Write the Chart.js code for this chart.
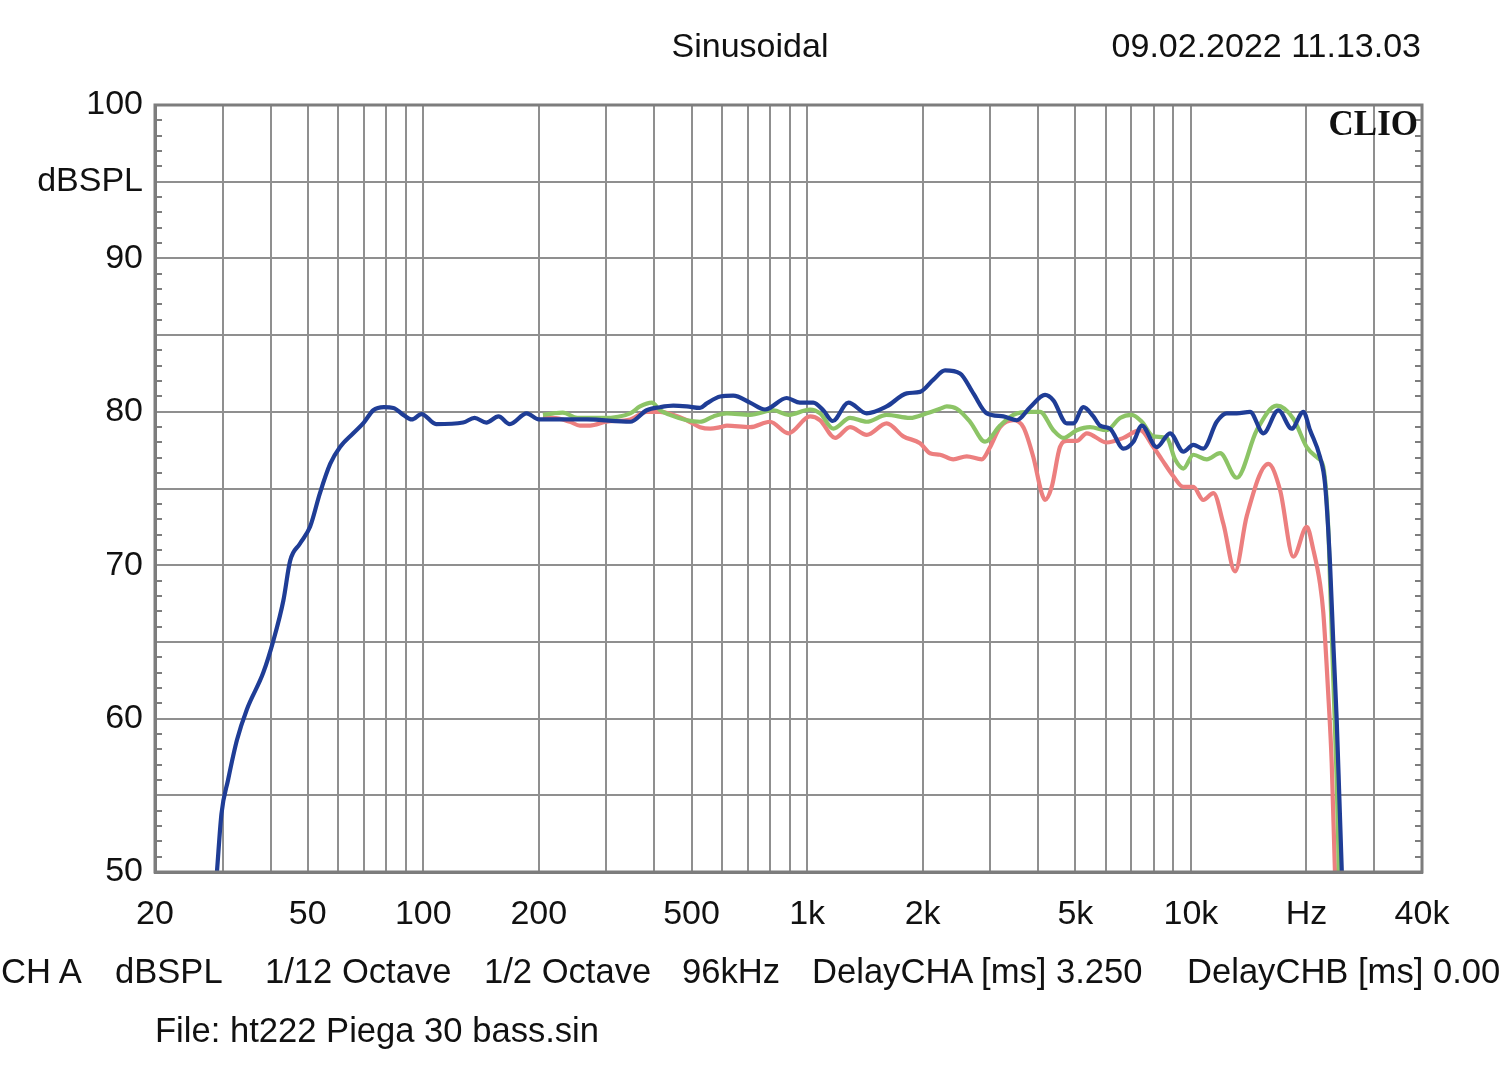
<!DOCTYPE html>
<html>
<head>
<meta charset="utf-8">
<script src="https://cdn.jsdelivr.net/npm/chart.js@4.4.1/dist/chart.umd.min.js"></script>
<style>
  body { margin: 0; background: #fff; }
  #wrap { position: relative; width: 1500px; height: 1074px; overflow: hidden; }
  #chart { position: absolute; left: 0; top: 0; }
  .txt { position: absolute; font-family: "Liberation Sans", Arial, sans-serif; font-size: 34px; line-height: 40px; color: #111; white-space: nowrap; }
  .foot { font-size: 34.6px; }
  #clio { position: absolute; right: 82px; top: 106px; font-family: "Liberation Serif", "Times New Roman", serif; font-weight: bold; font-size: 35px; line-height: 35px; color: #111; }
</style>
</head>
<body>
<div id="wrap">
  <canvas id="chart" width="1500" height="1074"></canvas>
  <div class="txt" style="left:0; width:1500px; text-align:center; top:25px;">Sinusoidal</div>
  <div class="txt" style="right:79px; top:25px;">09.02.2022 11.13.03</div>
  <div id="clio">CLIO</div>
  <div class="txt foot" style="left:1px; top:951px;">CH A</div>
  <div class="txt foot" style="left:115px; top:951px;">dBSPL</div>
  <div class="txt foot" style="left:265px; top:951px;">1/12 Octave</div>
  <div class="txt foot" style="left:484px; top:951px;">1/2 Octave</div>
  <div class="txt foot" style="left:682px; top:951px;">96kHz</div>
  <div class="txt foot" style="left:812px; top:951px;">DelayCHA [ms] 3.250</div>
  <div class="txt foot" style="left:1187px; top:951px;">DelayCHB [ms] 0.00</div>
  <div class="txt foot" style="left:155px; top:1010px;">File: ht222 Piega 30 bass.sin</div>
</div>
<script>
// curve values (Hz / dBSPL)
const blueFreq = [29.0, 29.8, 31.0, 32.7, 34.7, 38.3, 40.7, 43.2, 45, 47.7, 50.7, 53.8, 57.2, 60.7, 65.7, 70, 74.1, 79, 83.6, 88.7, 93.3, 99, 108, 127, 136, 146, 157, 168, 186, 200, 267, 346, 382, 414, 448, 486, 526, 548, 594, 642, 710, 777, 885, 958, 1038, 1102, 1166, 1281, 1430, 1612, 1818, 1969, 2134, 2288, 2503, 2711, 2938, 3246, 3517, 3811, 4168, 4381, 4748, 4940, 5246, 5570, 5797, 6157, 6670, 7081, 7447, 8147, 8825, 9559, 10145, 10771, 11675, 12397, 13163, 14257, 15446, 16899, 18315, 19630, 20440, 21694, 22356, 23037, 23497, 23979, 24358, 24800];
const blueDb = [50, 53.8, 56.0, 58.6, 60.6, 63.0, 65.1, 67.7, 70.3, 71.4, 72.5, 74.7, 76.6, 77.7, 78.6, 79.3, 80.1, 80.3, 80.25, 79.8, 79.5, 79.85, 79.2, 79.3, 79.6, 79.3, 79.7, 79.2, 79.9, 79.5, 79.5, 79.35, 80.1, 80.3, 80.4, 80.35, 80.25, 80.55, 81.0, 81.05, 80.6, 80.15, 80.9, 80.6, 80.6, 80.1, 79.4, 80.6, 79.9, 80.35, 81.2, 81.3, 82.1, 82.7, 82.5, 81.2, 79.9, 79.7, 79.45, 80.3, 81.1, 80.75, 79.25, 79.25, 80.3, 79.7, 79.1, 78.9, 77.6, 78.05, 79.1, 77.7, 78.6, 77.4, 77.85, 77.6, 79.35, 79.9, 79.9, 80.0, 78.6, 80.1, 78.9, 80.0, 78.8, 77.05, 75.3, 70.1, 64.9, 59.9, 54.9, 49];

const greenFreq = [205, 218, 231, 252, 294, 346, 367, 394, 414, 439, 486, 526, 570, 618, 710, 817, 894, 1018, 1081, 1171, 1294, 1430, 1612, 1855, 2050, 2220, 2312, 2454, 2658, 2908, 3182, 3446, 3811, 4045, 4381, 4651, 5040, 5460, 6035, 6536, 7013, 7447, 7983, 8650, 9091, 9559, 10145, 10997, 11914, 13163, 14842, 16735, 18491, 20037, 21475, 22128, 22805, 23037, 23497, 23979, 24300, 24500];
const greenDb = [79.8, 79.9, 79.95, 79.6, 79.6, 79.9, 80.35, 80.6, 80.1, 79.8, 79.45, 79.35, 79.7, 79.9, 79.8, 80.1, 79.8, 80.15, 79.9, 78.9, 79.6, 79.35, 79.8, 79.6, 79.9, 80.2, 80.35, 80.2, 79.35, 78.05, 79.1, 79.8, 80.0, 80.0, 78.8, 78.3, 78.8, 79.0, 78.8, 79.6, 79.8, 79.35, 78.4, 78.3, 76.9, 76.3, 77.2, 76.9, 77.3, 75.7, 78.8, 80.4, 79.55, 77.7, 76.95, 76.4, 72.3, 69, 62.5, 56, 50, 47];

const redFreq = [205, 218, 241, 256, 272, 300, 346, 382, 414, 447, 486, 526, 559, 594, 618, 710, 800, 894, 1018, 1081, 1183, 1294, 1430, 1612, 1781, 1969, 2090, 2220, 2404, 2606, 2851, 2997, 3182, 3446, 3660, 3885, 4085, 4168, 4338, 4558, 4748, 5040, 5354, 6035, 6670, 7367, 7983, 8395, 9000, 9559, 10145, 10771, 11447, 12150, 13031, 13977, 15911, 17070, 18491, 20037, 20845, 21694, 22128, 22805, 23272, 23737, 23900];
const redDb = [79.6, 79.6, 79.35, 79.1, 79.1, 79.35, 79.5, 80.0, 80.0, 79.8, 79.45, 79.0, 78.9, 79.0, 79.1, 79.0, 79.35, 78.6, 79.7, 79.45, 78.3, 79.0, 78.5, 79.25, 78.4, 77.95, 77.3, 77.2, 76.9, 77.1, 76.9, 77.7, 79.0, 79.45, 79.0, 77.05, 74.7, 74.25, 75.1, 77.7, 78.1, 78.1, 78.6, 78.0, 78.3, 78.8, 77.7, 76.9, 75.8, 75.1, 75.1, 74.25, 74.7, 72.7, 69.6, 73.2, 76.6, 74.9, 70.55, 72.5, 71.0, 68.8, 66.9, 61.5, 57.1, 49.9, 48];

// grid and tick labels
const xGrid = [20, 30, 40, 50, 60, 70, 80, 90, 100, 200, 300, 400, 500, 600, 700, 800, 900,
  1000, 2000, 3000, 4000, 5000, 6000, 7000, 8000, 9000, 10000, 20000, 30000, 40000];
const xLabels = { 20: '20', 50: '50', 100: '100', 200: '200', 500: '500', 1000: '1k', 2000: '2k',
  5000: '5k', 10000: '10k', 20000: 'Hz', 40000: '40k' };
const yLabels = { 50: '50', 60: '60', 70: '70', 80: '80', 90: '90', 95: 'dBSPL', 100: '100' };

function pts(fs, ds) {
  return fs.map((f, i) => ({ x: f, y: ds[i] }));
}

const fontFam = '"Liberation Sans", Arial, sans-serif';
const gridCol = '#8f8f8f';

// box border + small dB ticks on both sides
const frame = {
  id: 'frame',
  afterDraw(chart) {
    const c = chart.ctx, a = chart.chartArea, y = chart.scales.y;
    c.save();
    c.strokeStyle = '#7d7d7d';
    c.lineWidth = 3;
    c.strokeRect(a.left, a.top, a.right - a.left, a.bottom - a.top);
    c.lineWidth = 2;
    for (let v = 51; v < 100; v++) {
      if (v % 5 === 0) continue;
      const py = Math.round(y.getPixelForValue(v));
      c.beginPath();
      c.moveTo(a.left, py); c.lineTo(a.left + 7, py);
      c.moveTo(a.right, py); c.lineTo(a.right - 7, py);
      c.stroke();
    }
    c.restore();
  }
};

const ctx = document.getElementById('chart');
const myChart = new Chart(ctx, {
  type: 'line',
  data: {
    datasets: [
      { label: 'blue', data: pts(blueFreq, blueDb), borderColor: '#1f3d96', borderWidth: 4.2 },
      { label: 'green', data: pts(greenFreq, greenDb), borderColor: '#8cc466', borderWidth: 4.2 },
      { label: 'red', data: pts(redFreq, redDb), borderColor: '#ec7f7f', borderWidth: 4.2 }
    ]
  },
  options: {
    responsive: false,
    animation: false,
    events: [],
    layout: { padding: { top: 105, right: 78, left: 0, bottom: 0 } },
    elements: {
      point: { radius: 0 },
      line: { cubicInterpolationMode: 'monotone', fill: false }
    },
    plugins: { legend: { display: false }, tooltip: { enabled: false } },
    scales: {
      x: {
        type: 'logarithmic',
        min: 20,
        max: 40000,
        afterBuildTicks: (s) => { s.ticks = xGrid.map(v => ({ value: v })); },
        afterFit: (s) => { s.height = 202; },
        ticks: {
          autoSkip: false,
          maxRotation: 0,
          padding: 22,
          color: '#111',
          font: { family: fontFam, size: 34 },
          callback: (v) => xLabels[v] || ''
        },
        grid: { color: gridCol, lineWidth: 2, drawTicks: false },
        border: { color: '#7d7d7d', width: 3 }
      },
      y: {
        min: 50,
        max: 100,
        afterFit: (s) => { s.width = 155; },
        ticks: {
          stepSize: 5,
          padding: 12,
          color: '#111',
          font: { family: fontFam, size: 34 },
          callback: (v) => yLabels[v] || ''
        },
        grid: { color: gridCol, lineWidth: 2, drawTicks: false },
        border: { color: '#7d7d7d', width: 3 }
      }
    }
  },
  plugins: [frame]
});
</script>
</body>
</html>
